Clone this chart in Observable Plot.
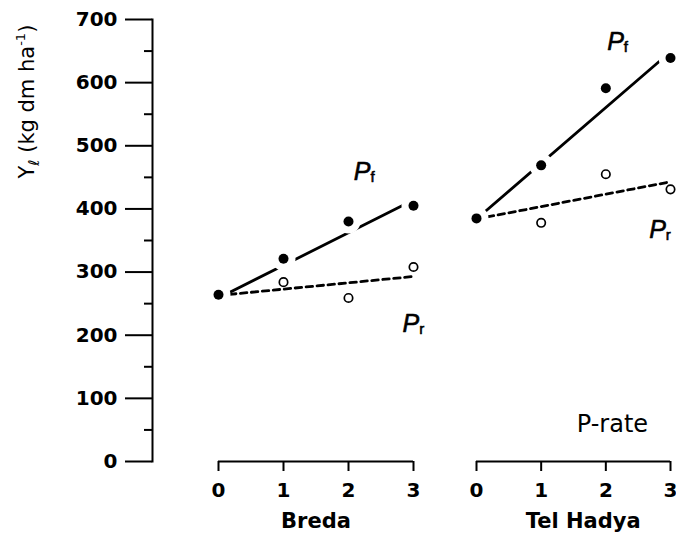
<!DOCTYPE html>
<html><head><meta charset="utf-8">
<script src="https://cdn.jsdelivr.net/npm/d3@7"></script>
<script src="https://cdn.jsdelivr.net/npm/@observablehq/plot@0.6"></script>
<style>
body{margin:0;background:#fff;}
#chart{position:relative;width:676px;height:543px;background:#fff;}
#chart svg{position:absolute;top:0;}
</style></head><body><div id="chart"></div>
<script>
// ---- data ----
const pRates = [0, 1, 2, 3];
const sites = ["Breda", "Tel Hadya"];
const bredaPf = [264, 321, 380, 405];      // filled dots (rate 0 is the shared control)
const bredaPr = [null, 284, 259, 308];     // open dots
const tellPf = [385, 469, 591, 639];
const tellPr = [null, 378, 455, 431];
const fitRates = [0, 3];
const bredaPfFit = [259, 414];
const bredaPrFit = [263, 293];
const tellPfFit = [384, 649];
const tellPrFit = [384, 443];
const yTicks = [0, 100, 200, 300, 400, 500, 600, 700];
const yMinorTicks = [50, 150, 250, 350, 450, 550, 650];
const yTitle = "Y{ℓ} (kg dm ha[-1])";
const seriesLabels = ["P{f}", "P{r}"];
const xAxisLabel = "P-rate";

const H = 543, MT = 19, MB = 82;

function rich(svg) {
  d3.select(svg).selectAll("text").each(function () {
    const t = this.textContent;
    if (!/[{\[]/.test(t)) return;
    const parts = t.split(/(\{[^}]*\}|\[[^\]]*\])/).filter(s => s.length);
    const sel = d3.select(this);
    sel.text(null);
    let shift = 0;
    const isTitle = t.startsWith("Y");
    for (const p of parts) {
      const ts = sel.append("tspan");
      if (p.startsWith("{")) {
        const d = isTitle ? 5 : 2;
        ts.attr("dy", d - shift).attr("font-size", 15)
          .attr("font-style", "normal").text(p.slice(1, -1));
        shift = d;
      } else if (p.startsWith("[")) {
        const d = -9;
        ts.attr("dy", d - shift).attr("font-size", 13).text(p.slice(1, -1));
        shift = d;
      } else {
        if (shift) ts.attr("dy", -shift);
        shift = 0;
        ts.text(p);
      }
    }
  });
}

function panel(cfg) {
  const pfPts = pRates.map((x, i) => ({x, y: cfg.pf[i]}));
  const prPts = pRates.map((x, i) => ({x, y: cfg.pr[i]})).filter(d => d.y != null);
  const pfLine = fitRates.map((x, i) => ({x, y: cfg.pfFit[i]}));
  const prLine = fitRates.map((x, i) => ({x, y: cfg.prFit[i]}));
  const labelFont = {textAnchor: "start", fontSize: 25, fontStyle: "italic", fontWeight: "normal", fontFamily: "Liberation Sans", fill: "black", stroke: "black", strokeWidth: 0.6};
  const marks = [
    Plot.ruleY([{y: 0, x1: pRates[0], x2: pRates[pRates.length - 1]}], {y: "y", x1: "x1", x2: "x2", strokeWidth: 2}),
    Plot.axisX({ticks: pRates, tickSize: 10, tickPadding: 11, strokeWidth: 2, tickFormat: d => String(d), label: null}),
    Plot.line(pfLine, {x: "x", y: "y", stroke: "black", strokeWidth: 2.8}),
    Plot.line(prLine, {x: "x", y: "y", stroke: "black", strokeWidth: 2.8, strokeDasharray: "6.5,4.5"}),
    Plot.dot(pfPts, {x: "x", y: "y", r: 12, fill: "white", stroke: "none"}),
    Plot.dot(pfPts, {x: "x", y: "y", r: 5, fill: "black"}),
    Plot.dot(prPts, {x: "x", y: "y", r: 4.2, fill: "white", stroke: "black", strokeWidth: 1.7}),
    Plot.text([{x: cfg.titleX, t: cfg.name}], {x: "x", text: "t", frameAnchor: "bottom", dy: 66, fontSize: 21, fontWeight: "bold"}),
    Plot.text([{x: cfg.pfLab[0], y: cfg.pfLab[1], t: seriesLabels[0]}], {x: "x", y: "y", text: "t", ...labelFont}),
    Plot.text([{x: cfg.prLab[0], y: cfg.prLab[1], t: seriesLabels[1]}], {x: "x", y: "y", text: "t", ...labelFont})
  ];
  if (cfg.yAxis) {
    marks.push(
      Plot.frame({anchor: "left", strokeWidth: 2}),
      Plot.axisY({ticks: yTicks, tickSize: 27, tickPadding: 8, strokeWidth: 2, label: null}),
      Plot.axisY({ticks: yMinorTicks, tickSize: 8, strokeWidth: 2, tickFormat: () => "", label: null}),
      Plot.text([{y: 570, t: yTitle}], {y: "y", text: "t", frameAnchor: "left", textAnchor: "middle", dx: -125, rotate: -90, fontSize: 21, fontWeight: "normal"})
    );
  }
  if (cfg.rateLab) {
    marks.push(Plot.text([{x: cfg.rateLab[0], y: cfg.rateLab[1], t: xAxisLabel}], {x: "x", y: "y", text: "t", textAnchor: "start", fontSize: 24, fontWeight: "normal"}));
  }
  const svg = Plot.plot({
    width: cfg.width, height: H,
    marginTop: MT, marginBottom: MB,
    marginLeft: cfg.marginLeft, marginRight: cfg.marginRight,
    x: {domain: [0, 3], insetLeft: cfg.insetLeft || 0, axis: null},
    y: {domain: [0, 700], axis: null},
    style: {fontFamily: "DejaVu Sans", fontSize: "20px", fontWeight: "bold", color: "black", background: "transparent", overflow: "visible"},
    marks
  });
  rich(svg);
  svg.style.left = cfg.left + "px";
  return svg;
}

const chart = document.getElementById("chart");
chart.append(panel({
  name: sites[0], left: 0, width: 440, marginLeft: 152, insetLeft: 66, marginRight: 27,
  pf: bredaPf, pr: bredaPr, pfFit: bredaPfFit, prFit: bredaPrFit,
  titleX: 1.5, pfLab: [2.08, 459], prLab: [2.83, 217], yAxis: true
}));
chart.append(panel({
  name: sites[1], left: 440, width: 236, marginLeft: 36, marginRight: 6,
  pf: tellPf, pr: tellPr, pfFit: tellPfFit, prFit: tellPrFit,
  titleX: 1.65, pfLab: [2.02, 665], prLab: [2.67, 367], rateLab: [1.55, 59]
}));
</script></body></html>
